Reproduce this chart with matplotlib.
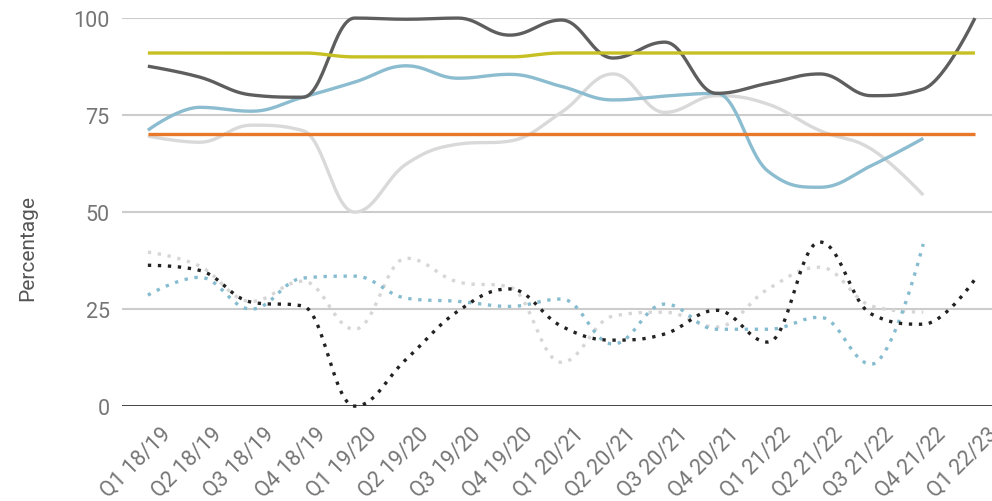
import numpy as np
import matplotlib.pyplot as plt
import matplotlib.transforms as mtransforms

quarters = ["Q1 18/19", "Q2 18/19", "Q3 18/19", "Q4 18/19",
            "Q1 19/20", "Q2 19/20", "Q3 19/20", "Q4 19/20",
            "Q1 20/21", "Q2 20/21", "Q3 20/21", "Q4 20/21",
            "Q1 21/22", "Q2 21/22", "Q3 21/22", "Q4 21/22", "Q1 22/23"]

target_high = [91, 91, 91, 91, 90, 90, 90, 90, 91, 91, 91, 91, 91, 91, 91, 91, 91]
target_low = [70] * 17
dark_solid = [87.6, 84.8, 80.2, 79.6, 100, 99.7, 100, 95.6, 99.5, 89.7, 93.8, 80.6, 83.2, 85.6, 80, 81.7, 100]
blue_solid = [71.1, 77, 76, 79.6, 83.5, 87.7, 84.5, 85.5, 82.4, 78.9, 79.9, 80.6, 60.5, 56.4, 62, 69]
grey_solid = [69.6, 68, 72.4, 71, 50, 62.4, 67.5, 68.3, 75.7, 85.6, 75.7, 80, 77.8, 71, 66.2, 54.4]
grey_dotted = [39.7, 36.1, 27, 32.2, 19.8, 38.1, 32, 30.7, 11.3, 23.2, 24.2, 20.4, 30.2, 35.8, 25.8, 24.2]
blue_dotted = [28.6, 33.2, 25, 33, 33.5, 27.8, 27, 25.7, 27.6, 16, 26.3, 19.8, 19.8, 22.9, 10.8, 41.8]
dark_dotted = [36.3, 35, 26.8, 25.8, 0, 12.1, 24.5, 30.2, 20.6, 17, 18.6, 24.7, 16.5, 42.3, 23.7, 21.1, 32.7]


def spline(y, steps=30, smoothing=1.5):
    # bezier spline with clamped control points (Highcharts style)
    y = np.asarray(y, float)
    n = len(y)
    den = smoothing + 1
    lc = [(i, y[i]) for i in range(n)]
    rc = [(i, y[i]) for i in range(n)]
    for i in range(1, n - 1):
        ly, py, ny = y[i - 1], y[i], y[i + 1]
        lcx = (smoothing * i + i - 1) / den
        rcx = (smoothing * i + i + 1) / den
        lcy = (smoothing * py + ly) / den
        rcy = (smoothing * py + ny) / den
        corr = (rcy - lcy) * (rcx - i) / (rcx - lcx) + py - rcy
        lcy += corr
        rcy += corr
        if lcy > ly and lcy > py:
            lcy = max(ly, py)
            rcy = 2 * py - lcy
        elif lcy < ly and lcy < py:
            lcy = min(ly, py)
            rcy = 2 * py - lcy
        if rcy > ny and rcy > py:
            rcy = max(ny, py)
            lcy = 2 * py - rcy
        elif rcy < ny and rcy < py:
            rcy = min(ny, py)
            lcy = 2 * py - rcy
        lc[i] = (lcx, lcy)
        rc[i] = (rcx, rcy)
    t = np.linspace(0, 1, steps, endpoint=False)[:, None]
    pts = []
    for i in range(n - 1):
        p0 = np.array([i, y[i]])
        p1 = np.array(rc[i])
        p2 = np.array(lc[i + 1])
        p3 = np.array([i + 1, y[i + 1]])
        pts.append((1 - t)**3 * p0 + 3 * (1 - t)**2 * t * p1
                   + 3 * (1 - t) * t**2 * p2 + t**3 * p3)
    pts.append(np.array([[n - 1, y[-1]]]))
    pts = np.vstack(pts)
    return pts[:, 0], pts[:, 1]


plt.rcParams['font.family'] = ['Roboto', 'DejaVu Sans']

fig = plt.figure(figsize=(9.92, 5.02), dpi=100)
ax = fig.add_axes([0.123, 0.189, 0.877, 0.773])

for v in [25, 50, 75, 100]:
    ax.axhline(v, color='#cccccc', lw=1.5, zorder=1)
ax.axhline(0, color='#333333', lw=2, zorder=1)

dot = (0, (1, 2))
series = [
    (grey_dotted, '#d6d6d6', dot),
    (blue_dotted, '#86bccf', dot),
    (dark_dotted, '#222222', dot),
    (grey_solid, '#d9d9d9', '-'),
    (blue_solid, '#8bbccf', '-'),
    (dark_solid, '#5e5e5e', '-'),
    (target_low, '#e8782a', '-'),
    (target_high, '#c6c022', '-'),
]
for vals, color, ls in series:
    x, y = spline(vals)
    ax.plot(x, y, color=color, lw=2.4, ls=ls, solid_capstyle='butt',
            dash_capstyle='butt', clip_on=False, zorder=3)

ax.set_xlim(-0.5, 16.33)
ax.set_ylim(0, 100)
ax.set_yticks([0, 25, 50, 75, 100])
ax.set_xticks(range(len(quarters)))
ax.set_xticklabels(quarters, rotation=45, ha='right', va='top',
                   rotation_mode='anchor')
ax.tick_params(axis='both', length=0, labelsize=15.5, labelcolor='#757575')
ax.tick_params(axis='x', pad=12)
ax.tick_params(axis='y', pad=9)
shift = mtransforms.ScaledTranslation(0.12, 0, fig.dpi_scale_trans)
for lab in ax.get_xticklabels():
    lab.set_transform(lab.get_transform() + shift)
for sp in ax.spines.values():
    sp.set_visible(False)
ax.set_ylabel("Percentage", fontsize=15, color='#555555')
ax.yaxis.set_label_coords(-0.098, 0.41)

fig.savefig("out.png", dpi=100)
